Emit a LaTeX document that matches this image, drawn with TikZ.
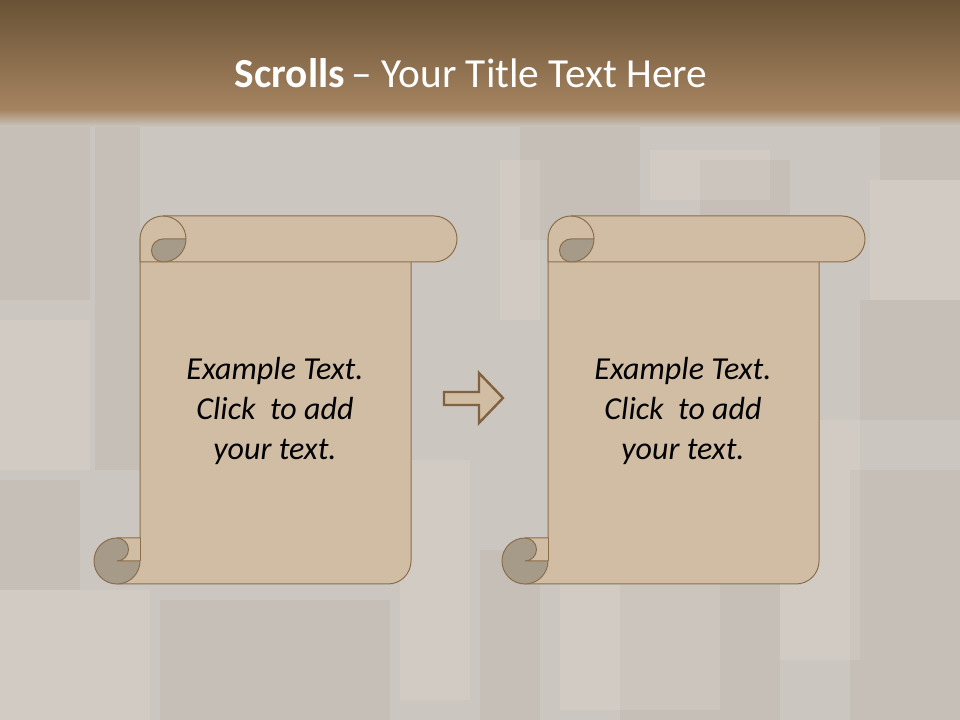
\documentclass[tikz,border=0pt]{standalone}
\usepackage{fontspec}
\setmainfont{Carlito}
\usetikzlibrary{positioning}
\definecolor{bgbase}{RGB}{203,198,192}
\definecolor{tiledark}{RGB}{120,100,80}
\definecolor{tilelight}{RGB}{232,222,208}
\definecolor{bartop}{RGB}{105,82,54}
\definecolor{barbot}{RGB}{166,132,96}
\definecolor{paper}{RGB}{209,189,164}
\definecolor{curl}{RGB}{166,154,136}
\definecolor{rim}{RGB}{139,111,76}
\definecolor{arrowrim}{RGB}{128,98,62}
\tikzset{
  paperpart/.style={fill=paper, draw=rim, line width=0.75pt, line join=round},
  curlpart/.style={fill=curl, draw=rim, line width=0.75pt, line join=round},
  rimline/.style={draw=rim, line width=0.75pt},
  scrolltext/.style={font=\fontsize{24}{30}\selectfont\itshape, align=center, text=black, inner sep=0pt},
  titletext/.style={font=\fontsize{31}{37}\selectfont, text=white, inner sep=0pt, anchor=base},
  darktile/.style={fill=tiledark, opacity=0.07},
  lighttile/.style={fill=tilelight, opacity=0.22}
}
% one scroll, local origin at the lower left of its box
\newcommand{\scrollpart}[2]{%
  \begin{scope}[shift={#1}]
    \filldraw[paperpart] (46,345) -- (46,46) -- (23,46) -- (23,0) -- (294,0)
      arc[start angle=270, end angle=360, radius=23] -- (317,345) -- cycle;
    \draw[rimline] (46,46) -- (46,23);
    \filldraw[paperpart] (46,322) -- (46,345) arc[start angle=180, end angle=90, radius=23]
      -- (340,368) arc[start angle=90, end angle=-90, radius=23] -- cycle;
    % upper curl
    \filldraw[curlpart] (92,345) arc[start angle=0, end angle=-90, radius=23]
      arc[start angle=270, end angle=90, radius=11.5] -- cycle;
    \draw[rimline] (69,368) arc[start angle=90, end angle=0, radius=23];
    % lower curl
    \filldraw[curlpart] (23,46) arc[start angle=90, end angle=360, radius=23]
      -- (23,23) arc[start angle=-90, end angle=90, radius=11.5] -- cycle;
    \node[scrolltext] (#2) at (181,173) {Example Text.\\Click~ to add\\your text.};
  \end{scope}}

\begin{document}
\begin{tikzpicture}[x=0.75pt, y=0.75pt]
\useasboundingbox (0,0) rectangle (960,720);
\fill[bgbase] (0,0) rectangle (960,720);
% wooden tiles behind
\foreach \xa/\ya/\xb/\yb in {0/420/90/600, 95/250/140/600, 0/130/80/240, 160/0/390/120,
    480/0/540/170, 620/0/780/160, 850/0/960/250, 860/300/960/420, 520/480/640/600,
    700/480/790/560, 880/540/960/600}
  \fill[darktile] (\xa,\ya) rectangle (\xb,\yb);
\foreach \xa/\ya/\xb/\yb in {0/0/150/130, 400/20/470/260, 560/10/720/140, 780/60/860/300,
    650/520/770/570, 500/400/540/560, 870/420/960/540, 0/250/90/400}
  \fill[lighttile] (\xa,\ya) rectangle (\xb,\yb);
% title bar
\shade[top color=bartop, bottom color=barbot] (0,610) rectangle (960,720);
\shade[top color=barbot, bottom color=bgbase] (0,593) rectangle (960,610.5);
\node[titletext] (title) at (471,632) {\textbf{Scrolls}\,– Your Title Text Here};
% scrolls
\scrollpart{(94,136)}{textA}
\scrollpart{(502,136)}{textB}
% arrow between them
\filldraw[fill=paper, draw=arrowrim, line width=1.8pt, line join=miter]
  (444,315) -- (479,315) -- (479,297) -- (503,322) -- (479,347) -- (479,328) -- (444,328) -- cycle;
\end{tikzpicture}
\end{document}
